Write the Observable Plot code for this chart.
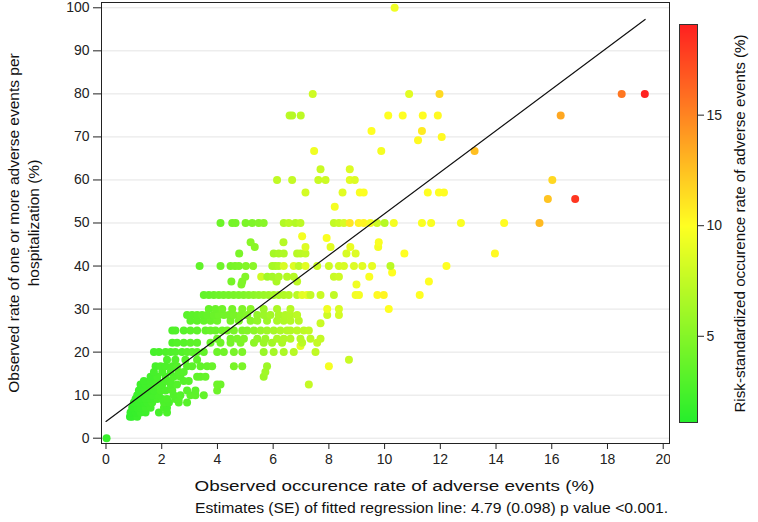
<!DOCTYPE html>
<html><head><meta charset="utf-8">
<script src="https://cdn.jsdelivr.net/npm/d3@7"></script>
<script src="https://cdn.jsdelivr.net/npm/@observablehq/plot@0.6"></script>
<style>
html,body{margin:0;padding:0;background:#fff;}
#wrap{position:relative;width:758px;height:522px;overflow:hidden;font-family:"Liberation Sans",Arial,sans-serif;}
#main,#bar{position:absolute;top:0;}
#main{left:0;} #bar{left:670px;}
</style></head><body><div id="wrap"><div id="main"></div><div id="bar"></div></div>
<script>
const xTicks = [0, 2, 4, 6, 8, 10, 12, 14, 16, 18, 20];
const yTicks = [0, 10, 20, 30, 40, 50, 60, 70, 80, 90, 100];
const colorTicks = [5, 10, 15];
const colorDomain = [1.1, 10, 19.1];
const colorRange = ["#26ee2c", "#ffff22", "#ff2020"];
const fitX = [0, 19.35];
const fitY = [3.9, 97.3];
const xTitle = "Observed occurence rate of adverse events (%)";
const yTitle = "Observed rate of one or more adverse events per\nhospitalization (%)";
const colorTitle = "Risk-standardized occurence rate of adverse events (%)";
const caption = "Estimates (SE) of fitted regression line: 4.79 (0.098) p value <0.001.";

// [observed rate, observed % with >=1 event, risk-standardized rate]
const points = [
[0.02,0,1.8],
[0.86,5,1.6],[0.94,5,1.7],[1.12,5,1.9],
[0.88,6,1.7],[1.06,6,1.8],[1.24,6,2.0],[1.42,6,2.1],[1.9,6,2.4],[2.19,6,2.6],
[0.94,7.1,1.8],[1.12,7.1,1.9],[1.24,7.1,2.0],[1.42,7.1,2.2],[1.6,7.1,2.3],[2.08,7.1,2.6],[2.19,7.1,2.5],
[1.0,8.3,1.9],[1.18,8.3,2.0],[1.36,8.3,2.1],[1.48,8.3,2.2],[1.66,8.3,2.4],[2.08,8.3,2.7],[2.26,8.3,2.6],[2.61,8.3,3.0],[2.91,8.3,3.1],
[1.06,9.1,1.9],[1.24,9.1,2.1],[1.42,9.1,2.2],[1.6,9.1,2.3],[1.84,9.1,2.5],[2.02,9.1,2.6],[2.19,9.1,2.7],[2.49,9.1,2.9],[2.61,9.1,3.0],
[1.12,10,2.0],[1.3,10,2.1],[1.48,10,2.3],[1.66,10,2.4],[1.9,10,2.5],[2.43,10,2.9],[2.67,10,3.0],[3.03,10,3.3],[3.21,10,3.4],[3.51,10,3.6],
[1.18,11.1,2.0],[1.36,11.1,2.2],[1.54,11.1,2.3],[1.72,11.1,2.4],[1.96,11.1,2.6],[2.14,11.1,2.7],[2.38,11.1,2.9],[2.91,11.1,3.2],[3.21,11.1,3.3],[3.99,11.1,4.0],
[1.24,12.5,2.1],[1.42,12.5,2.2],[1.6,12.5,2.3],[1.78,12.5,2.5],[2.02,12.5,2.6],[2.32,12.5,2.8],[2.55,12.5,3.0],[3.99,12.5,4.1],[4.11,12.5,4.0],[7.28,12.5,7.6],
[1.36,13.3,2.2],[1.6,13.3,2.3],[1.84,13.3,2.5],[2.14,13.3,2.7],[2.32,13.3,2.8],[2.79,13.3,3.1],[2.97,13.3,3.2],
[1.6,14.3,2.3],[1.84,14.3,2.5],[2.14,14.3,2.7],[2.43,14.3,2.9],[2.67,14.3,3.0],[3.27,14.3,3.5],[3.39,14.3,3.5],[3.57,14.3,3.7],[5.66,14.3,6.0],
[1.72,15.4,2.4],[2.02,15.4,2.6],[2.32,15.4,2.8],[2.61,15.4,3.0],[2.79,15.4,3.1],[5.72,15.4,6.1],
[1.78,16.7,2.4],[1.96,16.7,2.6],[2.14,16.7,2.7],[2.38,16.7,2.8],[2.55,16.7,3.0],[2.91,16.7,3.2],[3.09,16.7,3.3],[3.39,16.7,3.5],[3.63,16.7,3.7],[3.81,16.7,3.8],[4.59,16.7,4.5],[4.89,16.7,4.6],[5.78,16.7,6.0],[8.0,16.7,9.6],
[2.19,18.2,2.7],[2.49,18.2,2.9],[2.85,18.2,3.1],[3.27,18.2,3.4],[8.72,18.2,7.8],
[1.72,20,2.4],[1.9,20,2.5],[2.14,20,2.7],[2.32,20,2.8],[2.49,20,2.9],[2.73,20,3.0],[2.91,20,3.2],[3.09,20,3.3],[3.27,20,3.4],[3.51,20,3.6],[3.99,20,4.0],[4.23,20,4.2],[4.59,20,4.5],[4.89,20,4.7],[5.66,20,5.8],[6.02,20,6.3],[6.38,20,6.6],[6.74,20,7.0],[7.52,20,7.4],
[6.98,21.4,8.8],
[2.38,22.2,2.8],[2.55,22.2,3.0],[2.79,22.2,3.1],[3.03,22.2,3.3],[3.27,22.2,3.4],[3.75,22.2,3.8],[4.11,22.2,4.1],[4.47,22.2,4.4],[4.83,22.2,4.7],[5.31,22.2,5.3],[5.66,22.2,5.9],[5.96,22.2,6.2],[6.32,22.2,6.6],[7.04,22.2,7.2],[7.58,22.2,7.6],
[3.99,23.1,4.0],[4.47,23.1,4.4],[4.71,23.1,4.6],[4.95,23.1,4.8],[5.43,23.1,5.5],[5.72,23.1,5.9],[6.14,23.1,6.5],[6.38,23.1,6.7],[6.62,23.1,6.9],[6.98,23.1,7.1],[7.34,23.1,7.3],[7.7,23.1,7.6],
[2.38,25,2.8],[2.49,25,2.9],[2.79,25,3.1],[3.03,25,3.3],[3.27,25,3.4],[3.57,25,3.6],[3.75,25,3.8],[3.93,25,3.9],[4.17,25,4.1],[4.35,25,4.3],[4.59,25,4.5],[4.89,25,4.7],[5.07,25,4.9],[5.31,25,5.3],[5.55,25,5.7],[5.78,25,6.0],[6.02,25,6.3],[6.26,25,6.6],[6.5,25,6.8],[6.62,25,6.9],[6.86,25,7.1],[7.1,25,7.3],[7.28,25,7.5],
[7.7,26.7,7.8],
[3.03,27.3,3.3],[3.27,27.3,3.4],[3.51,27.3,3.6],[3.75,27.3,3.8],[3.99,27.3,4.0],[4.47,27.3,4.4],[4.77,27.3,4.6],[5.19,27.3,5.1],[5.43,27.3,5.5],[5.78,27.3,6.0],[6.14,27.3,6.5],[6.38,27.3,6.7],[6.62,27.3,6.9],[6.92,27.3,7.1],
[2.91,28.6,3.2],[3.09,28.6,3.3],[3.27,28.6,3.4],[3.45,28.6,3.5],[3.63,28.6,3.7],[3.87,28.6,3.9],[4.05,28.6,4.0],[4.23,28.6,4.2],[4.41,28.6,4.3],[4.59,28.6,4.5],[4.83,28.6,4.7],[5.07,28.6,4.9],[5.43,28.6,5.5],[5.66,28.6,5.9],[5.9,28.6,6.2],[6.2,28.6,6.5],[6.44,28.6,6.8],[6.62,28.6,6.9],[6.86,28.6,7.2],[7.94,28.6,8.0],[8.36,28.6,8.2],
[3.69,30,3.7],[3.93,30,3.9],[4.17,30,4.1],[4.53,30,4.4],[4.89,30,4.7],[5.19,30,5.1],[5.66,30,5.9],[6.14,30,6.5],[6.62,30,7.0],[7.94,30,9.4],[8.36,30,8.4],[10.15,30,10.0],
[3.51,33.3,3.6],[3.69,33.3,3.7],[3.87,33.3,3.9],[4.05,33.3,4.0],[4.22,33.3,4.2],[4.4,33.3,4.3],[4.58,33.3,4.5],[4.76,33.3,4.6],[4.94,33.3,4.8],[5.12,33.3,5.0],[5.3,33.3,5.3],[5.48,33.3,5.5],[5.66,33.3,5.8],[5.84,33.3,6.0],[6.02,33.3,6.3],[6.2,33.3,6.5],[6.38,33.3,6.7],[6.56,33.3,6.9],[6.86,33.3,7.2],[7.04,33.3,8.8],[7.22,33.3,9.0],[7.34,33.3,7.6],[7.7,33.3,7.8],[8.18,33.3,7.4],[8.96,33.3,9.5],[9.08,33.3,9.6],[9.74,33.3,10.2],[9.97,33.3,10.4],[11.26,33.3,10.0],
[4.86,35.7,4.7],[8.99,35.7,9.4],
[4.5,36.4,4.4],[4.89,36.4,4.7],[6.12,36.4,6.5],[6.86,36.4,7.3],[11.59,36.4,10.0],
[5.0,37.5,4.9],[5.57,37.5,8.0],[5.79,37.5,6.1],[5.97,37.5,6.3],[6.2,37.5,6.6],[6.5,37.5,6.9],[6.74,37.5,7.0],[8.18,37.5,7.8],[8.36,37.5,8.0],[9.45,37.5,9.8],
[10.27,38.5,10.0],
[3.36,40,3.5],[4.11,40,4.1],[4.47,40,4.4],[4.63,40,4.5],[4.77,40,4.6],[5.02,40,4.9],[5.28,40,5.2],[5.97,40,6.3],[6.08,40,6.4],[6.2,40,6.6],[6.38,40,8.4],[6.74,40,8.6],[6.92,40,7.2],[7.16,40,8.8],[7.58,40,7.8],[8.0,40,8.0],[8.36,40,8.2],[8.54,40,8.4],[8.9,40,8.6],[9.2,40,8.8],[9.55,40,9.0],[10.21,40,7.2],[12.22,40,10.0],
[4.78,42.9,4.6],[6.02,42.9,6.3],[6.2,42.9,6.5],[6.38,42.9,6.7],[6.86,42.9,7.1],[6.98,42.9,7.2],[7.16,42.9,7.4],[8.63,42.9,8.4],[8.96,42.9,8.6],[10.71,42.9,10.0],[13.96,42.9,10.2],
[5.34,44.4,5.2],[7.16,44.4,8.6],[8.06,44.4,8.8],[8.77,44.4,9.2],[9.77,44.4,9.6],
[5.19,45.5,5.1],[6.37,45.5,7.0],[9.79,45.5,9.8],
[7.04,46.9,9.6],[7.92,46.5,9.8],
[4.11,50,4.0],[4.53,50,4.3],[4.65,50,4.4],[5.01,50,4.6],[5.25,50,4.7],[5.48,50,4.9],[5.66,50,5.1],[6.38,50,6.8],[6.56,50,7.2],[6.8,50,6.9],[6.98,50,7.3],[8.18,50,7.5],[8.36,50,7.8],[8.54,50,8.4],[8.75,50,11.0],[9.07,50,10.5],[9.25,50,10.4],[9.49,50,9.6],[9.73,50,8.0],[10.0,50,7.0],[10.33,50,9.6],[11.34,50,9.8],[11.67,50,9.8],[12.74,50,9.8],[14.29,50,10.1],[15.56,50,12.8],
[8.21,53.8,9.6],
[15.86,55.6,12.4],[16.84,55.6,18.2],
[7.16,57.1,8.2],[8.49,57.1,8.8],[9.11,57.1,9.8],[9.25,57.1,9.9],[11.55,57.1,10.0],[11.95,57.1,10.0],[12.13,57.1,10.1],
[6.14,60,7.4],[6.68,60,7.6],[7.62,60,7.8],[7.88,60,7.9],[8.75,60,8.8],[8.93,60,8.6],[16.02,60,11.6],
[7.7,62.5,7.8],[8.75,62.5,8.6],
[7.47,66.7,9.4],[9.88,66.7,9.6],[13.23,66.7,12.6],
[11.2,69.2,10.2],[12.05,70,10.2],
[9.53,71.4,10.0],[11.34,71.4,10.8],
[6.59,75,7.2],[6.68,75,7.0],[6.99,75,7.3],[10.13,75,10.0],[10.65,75,10.0],[11.37,75,10.1],[11.91,75,10.2],[16.32,75,13.6],
[7.42,80,8.0],[10.88,80,8.8],[11.97,80,11.5],[18.51,80,15.6],[19.34,80,19.0],
[10.36,100,9.4]
];

const fontFamily = "'Liberation Sans', Arial, sans-serif";
const colorScale = {type: "linear", domain: colorDomain, range: colorRange, interpolate: "rgb"};
const fitLine = fitX.map((x, i) => ({x, y: fitY[i]}));

const main = Plot.plot({
  width: 670, height: 522,
  marginLeft: 101, marginRight: 1, marginTop: 2, marginBottom: 79,
  style: {fontFamily, fontSize: "14px", color: "#222", background: "#fff"},
  x: {domain: [-0.1615, 20.226]},
  y: {domain: [-1.231, 101.23]},
  color: colorScale,
  marks: [
    Plot.gridY(yTicks, {stroke: "#e4e4e4", strokeOpacity: 1}),
    Plot.dot(points, {x: d => d[0], y: d => d[1], fill: d => d[2], r: 4}),
    Plot.line(fitLine, {x: "x", y: "y", stroke: "#111", strokeWidth: 1.2}),
    Plot.frame({stroke: "#222"}),
    Plot.axisX({ticks: xTicks, tickSize: 6, tickPadding: 5, label: null, fontSize: 14}),
    Plot.axisY({ticks: yTicks, tickSize: 8, tickPadding: 4, label: null, fontSize: 14}),
    Plot.text([xTitle], {text: d => d, frameAnchor: "bottom", dx: 9, dy: 47, fontSize: 15.5, fill: "#111", className: "xt"}),
    Plot.text([caption], {text: d => d, frameAnchor: "bottom", dx: 46, dy: 69, fontSize: 15, fill: "#111", className: "cap"}),
    Plot.text([yTitle], {text: d => d, frameAnchor: "left", textAnchor: "middle", rotate: -90, dx: -79, lineHeight: 1.3, fontSize: 15.5, fill: "#111"})
  ]
});
document.getElementById("main").appendChild(main);
// stretch the horizontal titles to the reference widths
const fit = (sel, len) => main.querySelectorAll(sel + " text").forEach(t => { t.setAttribute("textLength", len); t.setAttribute("lengthAdjust", "spacingAndGlyphs"); });
fit(".xt", 400);
fit(".cap", 473);

const bar = Plot.plot({
  width: 88, height: 522,
  marginLeft: 9, marginRight: 61, marginTop: 24, marginBottom: 100,
  style: {fontFamily, fontSize: "14px", color: "#222", background: "transparent"},
  x: {domain: [0, 1], axis: null},
  y: {domain: [colorDomain[0], colorDomain[2]]},
  color: colorScale,
  marks: [
    Plot.raster({x1: 0, x2: 1, y1: colorDomain[0], y2: colorDomain[2], width: 1, height: 398, fill: (x, y) => y}),
    Plot.frame({stroke: "#333"}),
    Plot.axisY({anchor: "right", ticks: colorTicks, tickSize: 6, tickPadding: 3, label: null, fontSize: 14}),
    Plot.text([colorTitle], {text: d => d, frameAnchor: "right", textAnchor: "middle", rotate: -90, dx: 43, fontSize: 15.2, fill: "#111"})
  ]
});
document.getElementById("bar").appendChild(bar);
</script></body></html>
